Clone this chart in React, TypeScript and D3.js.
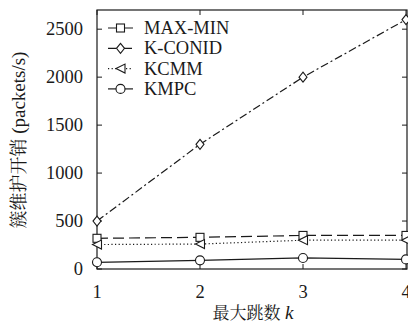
import * as d3 from 'd3';

const hops = [1, 2, 3, 4];
const maxMin = [320, 330, 350, 350];
const kConid = [500, 1300, 2000, 2600];
const kcmm = [255, 260, 300, 300];
const kmpc = [70, 90, 115, 100];
const yTicks = [0, 500, 1000, 1500, 2000, 2500];

const series = [
  { name: 'MAX-MIN', values: maxMin, dash: '11,5', marker: 'square' },
  { name: 'K-CONID', values: kConid, dash: '8,3,2,3', marker: 'diamond' },
  { name: 'KCMM', values: kcmm, dash: '1.2,2.4', marker: 'triangle' },
  { name: 'KMPC', values: kmpc, dash: undefined, marker: 'circle' },
];

const W = 408;
const H = 332;
const margin = { top: 10, right: 1, bottom: 63, left: 97 };
const iw = W - margin.left - margin.right;
const ih = H - margin.top - margin.bottom;
const ink = '#1a1a1a';
const serif = { fontFamily: "'Liberation Serif'" };
const cjk = { fontFamily: "'Noto Serif CJK SC'" };

const x = d3.scaleLinear().domain([1, 4]).range([0, iw - 1]);
const y = d3.scaleLinear().domain([0, 2700]).range([ih, 0]);
const line = d3.line<number>().x((_, i) => x(hops[i])).y((d) => y(d));

function Marker({ kind, cx, cy }) {
  const s = 4.5;
  const p = { fill: 'white', stroke: ink, strokeWidth: 1.1 };
  if (kind === 'square') return <rect x={cx - s + 0.5} y={cy - s + 0.5} width={2 * s - 1} height={2 * s - 1} {...p} />;
  if (kind === 'diamond') return <path d={`M${cx},${cy - s - 0.5}L${cx + s - 0.5},${cy}L${cx},${cy + s + 0.5}L${cx - s + 0.5},${cy}Z`} {...p} />;
  if (kind === 'triangle') return <path d={`M${cx - s},${cy}L${cx + s},${cy - s}L${cx + s},${cy + s}Z`} {...p} />;
  return <circle cx={cx} cy={cy} r={s} {...p} />;
}

export default function App() {
  return (
    <div style={{ position: 'absolute', left: 0, top: 0, width: W, height: H }}>
      <svg width={W} height={H} style={{ display: 'block', background: 'white' }}>
        <g transform={`translate(${margin.left},${margin.top})`}>
          <rect width={iw} height={ih} fill="none" stroke={ink} strokeWidth={1.2} />
          {yTicks.map((t) => (
            <g key={t}>
              <line x1={0} x2={5} y1={y(t)} y2={y(t)} stroke={ink} />
              <line x1={iw} x2={iw - 5} y1={y(t)} y2={y(t)} stroke={ink} />
              <text x={-14} y={y(t)} dy="0.33em" textAnchor="end" fontSize={18.5} fill={ink} style={serif}>{t}</text>
            </g>
          ))}
          {hops.map((h) => (
            <g key={h}>
              <line x1={x(h)} x2={x(h)} y1={ih} y2={ih - 5} stroke={ink} />
              <line x1={x(h)} x2={x(h)} y1={0} y2={5} stroke={ink} />
              <text x={x(h)} y={ih + 23} dy="0.33em" textAnchor="middle" fontSize={18.5} fill={ink} style={serif}>{h}</text>
            </g>
          ))}
          {series.map((s) => (
            <g key={s.name}>
              <path d={line(s.values)} fill="none" stroke={ink} strokeWidth={1.2} strokeDasharray={s.dash} />
              {s.values.map((v, i) => <Marker key={i} kind={s.marker} cx={x(hops[i])} cy={y(v)} />)}
            </g>
          ))}
          {series.map((s, i) => {
            const ly = 18 + i * 20.3;
            return (
              <g key={s.name}>
                <line x1={11} x2={36} y1={ly} y2={ly} stroke={ink} strokeWidth={1.2} strokeDasharray={s.dash} />
                <Marker kind={s.marker} cx={23.5} cy={ly} />
                <text x={47} y={ly} dy="0.33em" fontSize={18.5} fill={ink} style={serif}>{s.name}</text>
              </g>
            );
          })}
        </g>
        <text transform="translate(19,140) rotate(-90)" textAnchor="middle" dy="0.35em" fill={ink}>
          <tspan fontSize={18} style={cjk}>簇维护开销 </tspan>
          <tspan fontSize={19} style={serif}>(packets/s)</tspan>
        </text>
        <text x={253} y={313} textAnchor="middle" dy="0.35em" fill={ink}>
          <tspan fontSize={17} style={cjk}>最大跳数 </tspan>
          <tspan fontSize={19} fontStyle="italic" style={serif}>k</tspan>
        </text>
      </svg>
    </div>
  );
}
